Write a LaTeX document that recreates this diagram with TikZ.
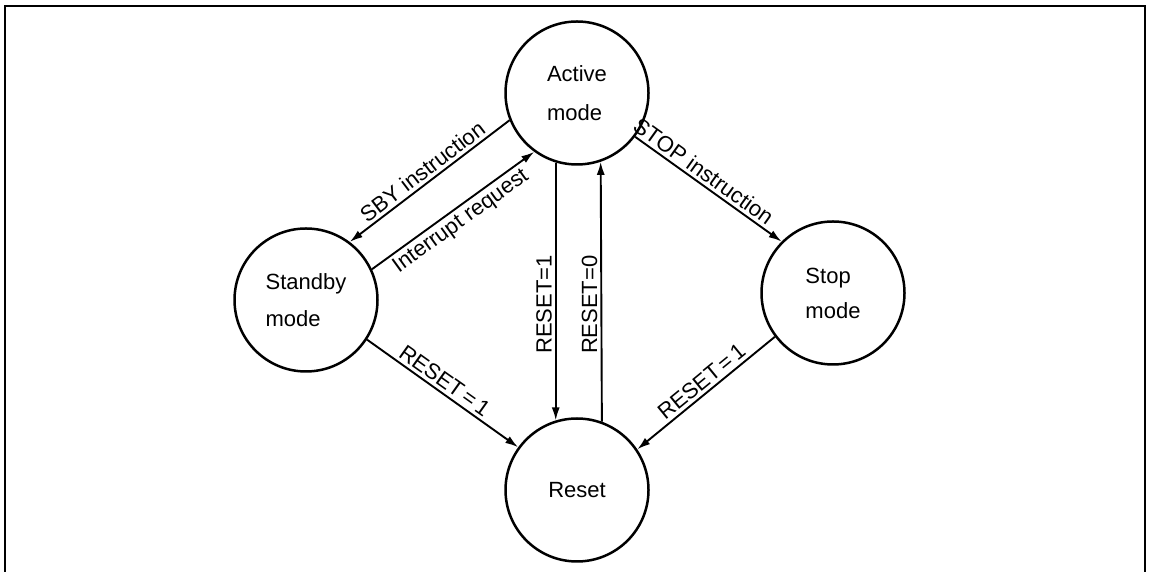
\documentclass[tikz,border=0pt]{standalone}
\usepackage{fontspec}
\setmainfont{Liberation Sans}
\usetikzlibrary{arrows.meta}
\begin{document}
\begin{tikzpicture}[x=1pt,y=1pt,
  state/.style={circle,draw,line width=2.5pt,minimum size=143pt,inner sep=0pt,align=left,font=\fontsize{22}{26}\selectfont},
  conn/.style={line width=1.9pt,-{Latex[length=13pt,width=8pt]}},
  rconn/.style={line width=1.9pt,{Latex[length=13pt,width=8pt]}-},
  lbl/.style={sloped,inner sep=3pt,font=\fontsize{22}{26}\selectfont},
  vlbl/.style={rotate=90,anchor=south,inner sep=3pt,font=\fontsize{22}{26}\selectfont}]
\useasboundingbox (0,0) rectangle (1151,572);
\draw[line width=1.8pt] (5,0) -- (5,566) -- (1145,566) -- (1145,0);
\node[state] (A) at (577,479) {Active\\[13pt]mode};
\node[state] (S) at (306,272) {Standby\\[11pt]mode};
\node[state] (P) at (833,279) {Stop\\[9pt]mode};
\node[state] (R) at (577,82) {Reset};
\draw[rconn] (S.53) -- node[lbl,above] {SBY instruction} (A.202);
\draw[conn] (S.25) -- node[lbl,below] {Interrupt request} (A.234);
\draw[conn] (A.323) -- node[lbl,above,pos=0.42] {STOP instruction} (P.135);
\draw[conn] (S.327) -- node[lbl,above,pos=0.47] {RESET$\,$=$\,$1} (R.144);
\draw[rconn] (R.34.5) -- node[lbl,above,pos=0.52] {RESET$\,$=$\,$1} (P.217);
\draw[rconn] (R.107) -- node[vlbl,pos=0.45] {RESET=1} (A.253);
\draw[conn] (R.70.5) -- node[vlbl,pos=0.45] {RESET=0} (A.289.5);
\end{tikzpicture}
\end{document}
